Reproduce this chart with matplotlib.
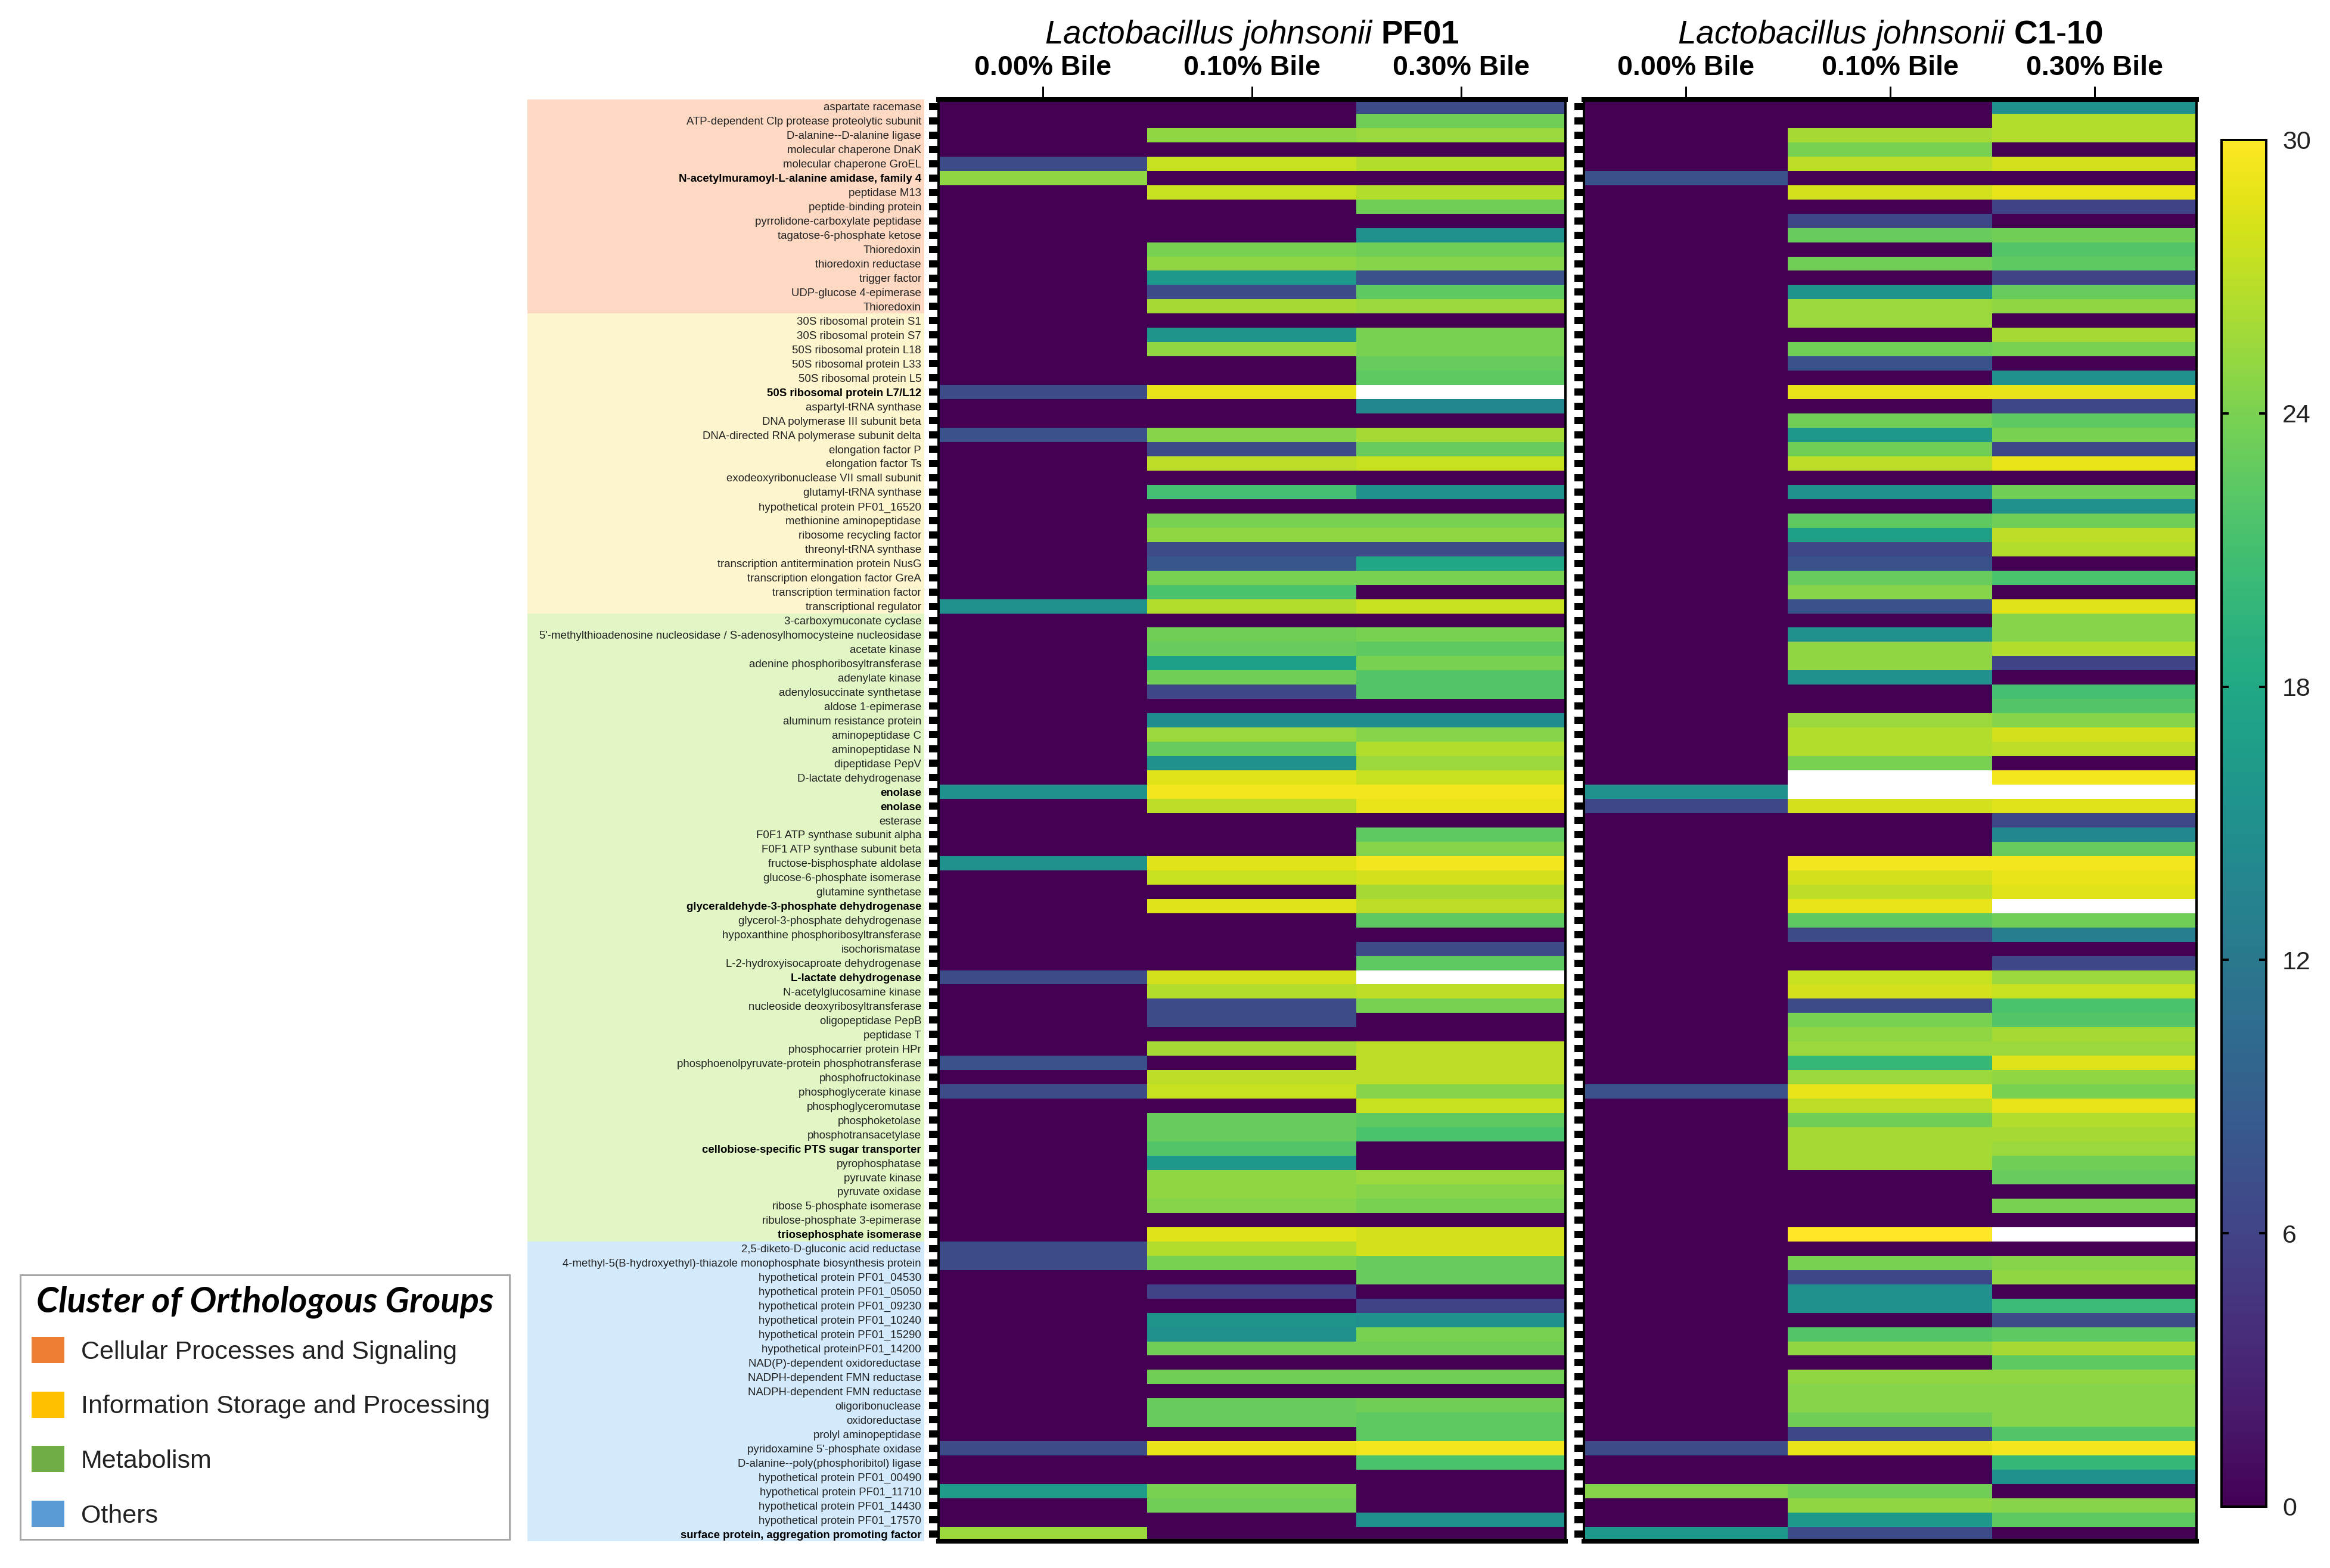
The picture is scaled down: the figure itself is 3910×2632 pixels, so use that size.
import numpy as np
import matplotlib
matplotlib.use("Agg")
import matplotlib.pyplot as plt
from matplotlib.patches import Patch

W, H = 3910, 2632
DPI = 100

cellular = [
    "aspartate racemase", "ATP-dependent Clp protease proteolytic subunit",
    "D-alanine--D-alanine ligase", "molecular chaperone DnaK", "molecular chaperone GroEL",
    "N-acetylmuramoyl-L-alanine amidase, family 4", "peptidase M13", "peptide-binding protein",
    "pyrrolidone-carboxylate peptidase", "tagatose-6-phosphate ketose", "Thioredoxin",
    "thioredoxin reductase", "trigger factor", "UDP-glucose 4-epimerase", "Thioredoxin",
]
information = [
    "30S ribosomal protein S1", "30S ribosomal protein S7", "50S ribosomal protein L18",
    "50S ribosomal protein L33", "50S ribosomal protein L5", "50S ribosomal protein L7/L12",
    "aspartyl-tRNA synthase", "DNA polymerase III subunit beta",
    "DNA-directed RNA polymerase subunit delta", "elongation factor P", "elongation factor Ts",
    "exodeoxyribonuclease VII small subunit", "glutamyl-tRNA synthase",
    "hypothetical protein PF01_16520", "methionine aminopeptidase", "ribosome recycling factor",
    "threonyl-tRNA synthase", "transcription antitermination protein NusG",
    "transcription elongation factor GreA", "transcription termination factor",
    "transcriptional regulator",
]
metabolism = [
    "3-carboxymuconate cyclase",
    "5'-methylthioadenosine nucleosidase / S-adenosylhomocysteine nucleosidase",
    "acetate kinase", "adenine phosphoribosyltransferase", "adenylate kinase",
    "adenylosuccinate synthetase", "aldose 1-epimerase", "aluminum resistance protein",
    "aminopeptidase C", "aminopeptidase N", "dipeptidase PepV", "D-lactate dehydrogenase",
    "enolase", "enolase", "esterase", "F0F1 ATP synthase subunit alpha",
    "F0F1 ATP synthase subunit beta", "fructose-bisphosphate aldolase",
    "glucose-6-phosphate isomerase", "glutamine synthetase",
    "glyceraldehyde-3-phosphate dehydrogenase", "glycerol-3-phosphate dehydrogenase",
    "hypoxanthine phosphoribosyltransferase", "isochorismatase",
    "L-2-hydroxyisocaproate dehydrogenase", "L-lactate dehydrogenase",
    "N-acetylglucosamine kinase", "nucleoside deoxyribosyltransferase", "oligopeptidase PepB",
    "peptidase T", "phosphocarrier protein HPr", "phosphoenolpyruvate-protein phosphotransferase",
    "phosphofructokinase", "phosphoglycerate kinase", "phosphoglyceromutase", "phosphoketolase",
    "phosphotransacetylase", "cellobiose-specific PTS sugar transporter", "pyrophosphatase",
    "pyruvate kinase", "pyruvate oxidase", "ribose 5-phosphate isomerase",
    "ribulose-phosphate 3-epimerase", "triosephosphate isomerase",
]
others = [
    "2,5-diketo-D-gluconic acid reductase",
    "4-methyl-5(B-hydroxyethyl)-thiazole monophosphate biosynthesis protein",
    "hypothetical protein PF01_04530", "hypothetical protein PF01_05050",
    "hypothetical protein PF01_09230", "hypothetical protein PF01_10240",
    "hypothetical protein PF01_15290", "hypothetical proteinPF01_14200",
    "NAD(P)-dependent oxidoreductase", "NADPH-dependent FMN reductase",
    "NADPH-dependent FMN reductase", "oligoribonuclease", "oxidoreductase",
    "prolyl aminopeptidase", "pyridoxamine 5'-phosphate oxidase",
    "D-alanine--poly(phosphoribitol) ligase", "hypothetical protein PF01_00490",
    "hypothetical protein PF01_11710", "hypothetical protein PF01_14430",
    "hypothetical protein PF01_17570", "surface protein, aggregation promoting factor",
]
bold_labels = {
    "N-acetylmuramoyl-L-alanine amidase, family 4", "50S ribosomal protein L7/L12", "enolase",
    "glyceraldehyde-3-phosphate dehydrogenase", "L-lactate dehydrogenase",
    "cellobiose-specific PTS sugar transporter", "triosephosphate isomerase",
    "surface protein, aggregation promoting factor",
}
bile_levels = ["0.00% Bile", "0.10% Bile", "0.30% Bile"]

# values above 30 come out white in the original
pf01_000 = [
    0, 0, 0, 0, 7, 25, 0, 0, 0, 0,
    0, 0, 0, 0, 0, 0, 0, 0, 0, 0,
    7, 0, 0, 7.5, 0, 0, 0, 0, 0, 0,
    0, 0, 0, 0, 0, 15, 0, 0, 0, 0,
    0, 0, 0, 0, 0, 0, 0, 0, 15, 0,
    0, 0, 0, 15, 0, 0, 0, 0, 0, 0,
    0, 7, 0, 0, 0, 0, 0, 7.5, 0, 7,
    0, 0, 0, 0, 0, 0, 0, 0, 0, 0,
    7, 7, 0, 0, 0, 0, 0, 0, 0, 0,
    0, 0, 0, 0, 7, 0, 0, 16.5, 0, 0,
    25.5,
]
pf01_010 = [
    0, 0, 25, 0, 27.5, 0, 27.5, 0, 0, 0,
    24, 25, 16, 7, 26, 0, 15.5, 25, 0, 0,
    29, 0, 0, 24.5, 7, 27, 0, 21, 0, 24,
    25, 7, 8, 24, 21.5, 26.5, 0, 23.5, 23, 17,
    23.5, 6.5, 0, 14.5, 25.5, 23, 15, 28.5, 29.5, 27,
    0, 0, 0, 28.5, 27.5, 0, 28.5, 0, 0, 0,
    0, 28, 26.5, 7, 7, 0, 26, 0, 27, 27.5,
    0, 23, 23, 22, 16, 25, 25, 24.5, 0, 28.5,
    26.5, 24, 0, 6, 0, 15.5, 15, 23.5, 0, 23.5,
    0, 23, 23, 0, 29, 0, 0, 24, 23.5, 0,
    0,
]
pf01_030 = [
    7, 23.5, 25.5, 0, 26.5, 0, 26.5, 23.5, 0, 15,
    23.5, 24.5, 7.5, 22.5, 25.5, 0, 24, 24, 23, 22.5,
    31, 14, 0, 26, 23, 27.5, 0, 15, 0, 24,
    25, 7, 18, 24, 0, 27.5, 0, 24, 22.5, 24,
    22, 22, 0, 14.5, 24.5, 26.5, 25.5, 27.5, 29.5, 29,
    0, 22.5, 24.5, 29.5, 28, 26, 27, 22.5, 0, 7,
    22.5, 31, 27, 24, 0, 0, 27, 27, 27, 24.5,
    27.5, 22.5, 21.5, 0, 0, 25.5, 24.5, 24, 0, 28,
    28, 23, 23, 0, 6, 15, 24, 23.5, 0, 23.5,
    0, 23.5, 22.5, 22.5, 29.5, 21.5, 0, 0, 0, 15,
    0,
]
c110_000 = [
    0, 0, 0, 0, 0, 7.5, 0, 0, 0, 0,
    0, 0, 0, 0, 0, 0, 0, 0, 0, 0,
    0, 0, 0, 0, 0, 0, 0, 0, 0, 0,
    0, 0, 0, 0, 0, 0, 0, 0, 0, 0,
    0, 0, 0, 0, 0, 0, 0, 0, 15, 6.5,
    0, 0, 0, 0, 0, 0, 0, 0, 0, 0,
    0, 0, 0, 0, 0, 0, 0, 0, 0, 7.5,
    0, 0, 0, 0, 0, 0, 0, 0, 0, 0,
    0, 0, 0, 0, 0, 0, 0, 0, 0, 0,
    0, 0, 0, 0, 7, 0, 0, 24.5, 0, 0,
    16,
]
c110_010 = [
    0, 0, 26, 24, 27, 0, 28, 0, 6.5, 23,
    0, 23.5, 0, 15.5, 25.5, 25.5, 0, 23.5, 7.5, 0,
    29, 0, 23.5, 16, 23.5, 27, 0, 15, 0, 22.5,
    17, 6.5, 7.5, 23, 24.5, 7.5, 0, 15, 25, 25,
    15, 0, 0, 25.5, 26.5, 26.5, 24, 31, 31, 28,
    0, 0, 0, 29.5, 28, 27, 29, 22.5, 7, 0,
    0, 27.5, 28, 7, 24, 25, 25.5, 20, 25.5, 29,
    27, 23.5, 26, 26, 26, 0, 0, 0, 0, 30,
    0, 24, 6.5, 15, 15, 0, 22, 25, 0, 25,
    24.5, 24.5, 23.5, 6.5, 29, 0, 0, 23.5, 25, 16,
    7,
]
c110_030 = [
    15, 26.5, 26.5, 0, 28, 0, 29, 6, 0, 23.5,
    22, 22.5, 6, 23, 25, 0, 26, 24, 0, 15,
    29, 6.5, 22.5, 24, 6.5, 29, 0, 23.5, 15, 23.5,
    27, 26.5, 0, 21.5, 0, 28.5, 24.5, 24.5, 26.5, 6,
    0, 21, 22, 24.5, 28, 27, 0, 29.5, 31, 28.5,
    6.5, 14, 23, 29.5, 29, 28.5, 31, 23.5, 13, 0,
    6.5, 25.5, 27.5, 21.5, 22, 26, 25.5, 28.5, 25, 24,
    29, 26.5, 26, 25.5, 23.5, 23, 0, 24, 0, 31,
    0, 24.5, 25, 0, 20.5, 7, 22.5, 26, 22.5, 25,
    24.5, 24.5, 24.5, 22, 29.5, 20, 15, 0, 24.5, 22.5,
    0,
]

group_names = ["Cellular Processes and Signaling", "Information Storage and Processing",
               "Metabolism", "Others"]
group_colors = ["#ED7D31", "#FFC000", "#70AD47", "#5B9BD5"]
band_colors = ["#FDD9C3", "#FDF5CE", "#E2F6C5", "#D3EAFD"]


def px_axes(fig, left, top, right, bottom):
    return fig.add_axes([left / W, 1 - bottom / H, (right - left) / W, (bottom - top) / H])


def px_pt(px):
    return px * 72 / DPI


def draw_panel(ax, matrix, title, cmap):
    im = ax.imshow(matrix, aspect="auto", cmap=cmap, vmin=0, vmax=30,
                   interpolation="nearest", extent=[0, 3, len(matrix), 0])
    ax.set_xticks([0.5, 1.5, 2.5])
    ax.set_xticklabels(bile_levels, fontsize=33.5, fontweight="bold")
    ax.xaxis.tick_top()
    ax.tick_params(axis="x", length=px_pt(22), width=px_pt(3), pad=px_pt(9))
    ax.set_yticks(np.arange(len(matrix)) + 0.5)
    ax.tick_params(axis="y", length=px_pt(16), width=px_pt(12), pad=px_pt(13))
    for side in ["left", "right"]:
        ax.spines[side].set_linewidth(px_pt(4))
    for side in ["top", "bottom"]:
        ax.spines[side].set_linewidth(px_pt(8))
    ax.set_title(title, fontsize=39.5, y=1.0, pad=px_pt(94))
    return im


def main() -> None:
    plt.rcParams["font.family"] = ["Liberation Sans", "DejaVu Sans"]
    plt.rcParams["mathtext.fontset"] = "custom"
    plt.rcParams["mathtext.it"] = "Liberation Sans:italic"
    plt.rcParams["mathtext.bf"] = "Liberation Sans:bold"
    plt.rcParams["mathtext.rm"] = "Liberation Sans"

    fig = plt.figure(figsize=(W / DPI, H / DPI), dpi=DPI)

    cmap = plt.get_cmap("viridis").copy()
    cmap.set_over("white")

    groups = [cellular, information, metabolism, others]
    labels = cellular + information + metabolism + others
    pf01 = np.column_stack([pf01_000, pf01_010, pf01_030])
    c110 = np.column_stack([c110_000, c110_010, c110_030])

    top, bottom = 167, 2587

    # category bands behind the protein names
    ax_bg = px_axes(fig, 885, top, 1551, bottom)
    ax_bg.set_ylim(len(labels), 0)
    ax_bg.axis("off")
    start = 0
    for names, color in zip(groups, band_colors):
        ax_bg.axhspan(start, start + len(names), color=color, lw=0)
        start += len(names)

    ax_a = px_axes(fig, 1575, top, 2627, bottom)
    ax_b = px_axes(fig, 2658, top, 3686, bottom)
    ax_a.patch.set_alpha(0)
    im = draw_panel(ax_a, pf01, r"$\mathit{Lactobacillus\ johnsonii}$ $\mathbf{PF01}$", cmap)
    draw_panel(ax_b, c110, r"$\mathit{Lactobacillus\ johnsonii}$ $\mathbf{C1}$-$\mathbf{10}$", cmap)

    ax_a.set_yticklabels(labels, fontsize=13.4, color="#222222")
    for tick_label, name in zip(ax_a.get_yticklabels(), labels):
        if name in bold_labels:
            tick_label.set_fontweight("bold")
            tick_label.set_color("black")
    ax_b.set_yticklabels([])

    cax = px_axes(fig, 3728, 235, 3803, 2529)
    cbar = fig.colorbar(im, cax=cax, ticks=[0, 6, 12, 18, 24, 30])
    cbar.ax.tick_params(labelsize=31, direction="in", length=px_pt(12), width=px_pt(4),
                        pad=px_pt(27), left=True, right=True, labelcolor="#222222")
    cbar.outline.set_linewidth(px_pt(4))

    handles = [Patch(facecolor=c, edgecolor="none", label=n)
               for n, c in zip(group_names, group_colors)]
    legend = fig.legend(
        handles=handles, title="Cluster of Orthologous Groups",
        loc="lower left", bbox_to_anchor=(34 / W, 1 - 2584 / H, 821 / W, 443 / H),
        borderaxespad=0, mode="expand",
        fontsize=31, fancybox=False, framealpha=1, edgecolor="#A6A6A6",
        handlelength=1.26, handleheight=1.2, handletextpad=0.65,
        labelspacing=1.07, borderpad=0.45,
        title_fontproperties={"family": "Lato", "weight": "bold", "style": "italic", "size": 43},
        alignment="center",
    )
    # the gap under the legend title is tighter than the gap between entries
    legend._legend_box.sep = 22
    legend.get_frame().set_linewidth(px_pt(3))
    for text in legend.get_texts():
        text.set_color("#222222")

    out_path = "out.png"
    fig.savefig(out_path, dpi=DPI)
    print(f"Saved: {out_path}")


if __name__ == "__main__":
    main()
